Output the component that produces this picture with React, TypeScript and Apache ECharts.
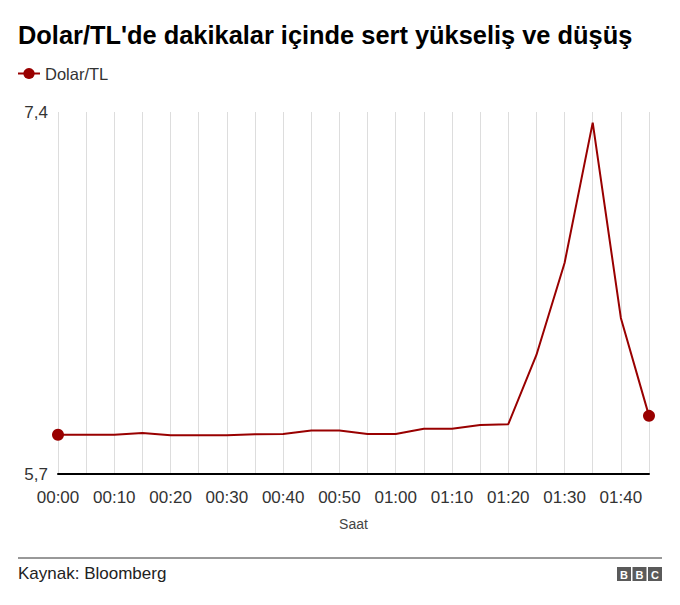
import React, { useEffect, useRef } from "react";
import * as echarts from "echarts";

const titleText = "Dolar/TL'de dakikalar içinde sert yükseliş ve düşüş";
const seriesName = "Dolar/TL";
const sourceText = "Kaynak: Bloomberg";
const xAxisName = "Saat";

const times = [
  "00:00", "00:05", "00:10", "00:15", "00:20", "00:25", "00:30", "00:35",
  "00:40", "00:45", "00:50", "00:55", "01:00", "01:05", "01:10", "01:15",
  "01:20", "01:25", "01:30", "01:35", "01:40", "01:45",
];

const rates = [
  5.884, 5.884, 5.884, 5.892, 5.882, 5.882, 5.882, 5.887,
  5.888, 5.904, 5.904, 5.888, 5.888, 5.913, 5.913, 5.930,
  5.934, 6.259, 6.691, 7.350, 6.433, 5.973,
];

const yTicks = [5.7, 7.4];

const RED = "#990000";
const FONT = "'Liberation Sans', Arial, Helvetica, sans-serif";

export default function App() {
  const ref = useRef<HTMLDivElement>(null);

  useEffect(() => {
    if (!ref.current) return;
    const chart = echarts.init(ref.current, null, { renderer: "svg" });
    const last = rates.length - 1;
    const bbcLetters = ["B", "B", "C"];
    const option = {
      animation: false,
      backgroundColor: "#ffffff",
      textStyle: { fontFamily: FONT },
      title: {
        text: titleText,
        left: 13,
        top: 17,
        textStyle: { fontFamily: FONT, fontSize: 25.4, fontWeight: "bold", color: "#000" },
      },
      legend: {
        left: 12,
        top: 60,
        itemWidth: 22,
        itemHeight: 14,
        itemGap: 10,
        textStyle: { fontFamily: FONT, fontSize: 16.5, color: "#333" },
        data: [seriesName],
      },
      grid: { left: 58, right: 31, top: 112, bottom: 131, containLabel: false },
      xAxis: {
        type: "category",
        data: times,
        boundaryGap: false,
        name: xAxisName,
        nameLocation: "middle",
        nameGap: 43,
        nameTextStyle: { fontFamily: FONT, fontSize: 14, color: "#444" },
        axisLine: { show: true, lineStyle: { color: "#000", width: 2 } },
        axisTick: { show: false },
        axisLabel: { interval: 1, margin: 15, fontFamily: FONT, fontSize: 17, color: "#333" },
        splitLine: { show: true, interval: 0, lineStyle: { color: "#dddddd", width: 1 } },
      },
      yAxis: {
        type: "value",
        min: 5.7,
        max: 7.4,
        axisLine: { show: false },
        axisTick: { show: false },
        splitLine: { show: false },
        axisLabel: {
          customValues: yTicks,
          margin: 10,
          fontFamily: FONT,
          fontSize: 17,
          color: "#333",
          formatter: (v: number) => v.toFixed(1).replace(".", ","),
        },
      },
      series: [
        {
          name: seriesName,
          type: "line",
          symbol: "circle",
          symbolSize: 12,
          itemStyle: { color: RED },
          lineStyle: { color: RED, width: 2 },
          data: rates.map((v, i) => (i === 0 || i === last ? v : { value: v, symbol: "none" })),
        },
      ],
      graphic: [
        {
          type: "line",
          shape: { x1: 18, y1: 558, x2: 662, y2: 558 },
          style: { stroke: "#333", lineWidth: 1 },
        },
        {
          type: "text",
          left: 18,
          top: 565,
          style: { text: sourceText, fontFamily: FONT, fontSize: 17, fill: "#222" },
        },
        ...bbcLetters.map((ch, i) => ({
          type: "group",
          x: 617 + i * 15.5,
          y: 567,
          children: [
            { type: "rect", shape: { x: 0, y: 0, width: 14, height: 14 }, style: { fill: "#5a5a5a" } },
            {
              type: "text",
              x: 7,
              y: 7.5,
              style: {
                text: ch,
                fontFamily: FONT,
                fontWeight: "bold",
                fontSize: 11,
                fill: "#fff",
                align: "center",
                verticalAlign: "middle",
              },
            },
          ],
        })),
      ],
    };
    chart.setOption(option as any);
    return () => chart.dispose();
  }, []);

  return (
    <div
      ref={ref}
      style={{ position: "fixed", left: 0, top: 0, width: 680, height: 605, background: "#fff" }}
    />
  );
}
